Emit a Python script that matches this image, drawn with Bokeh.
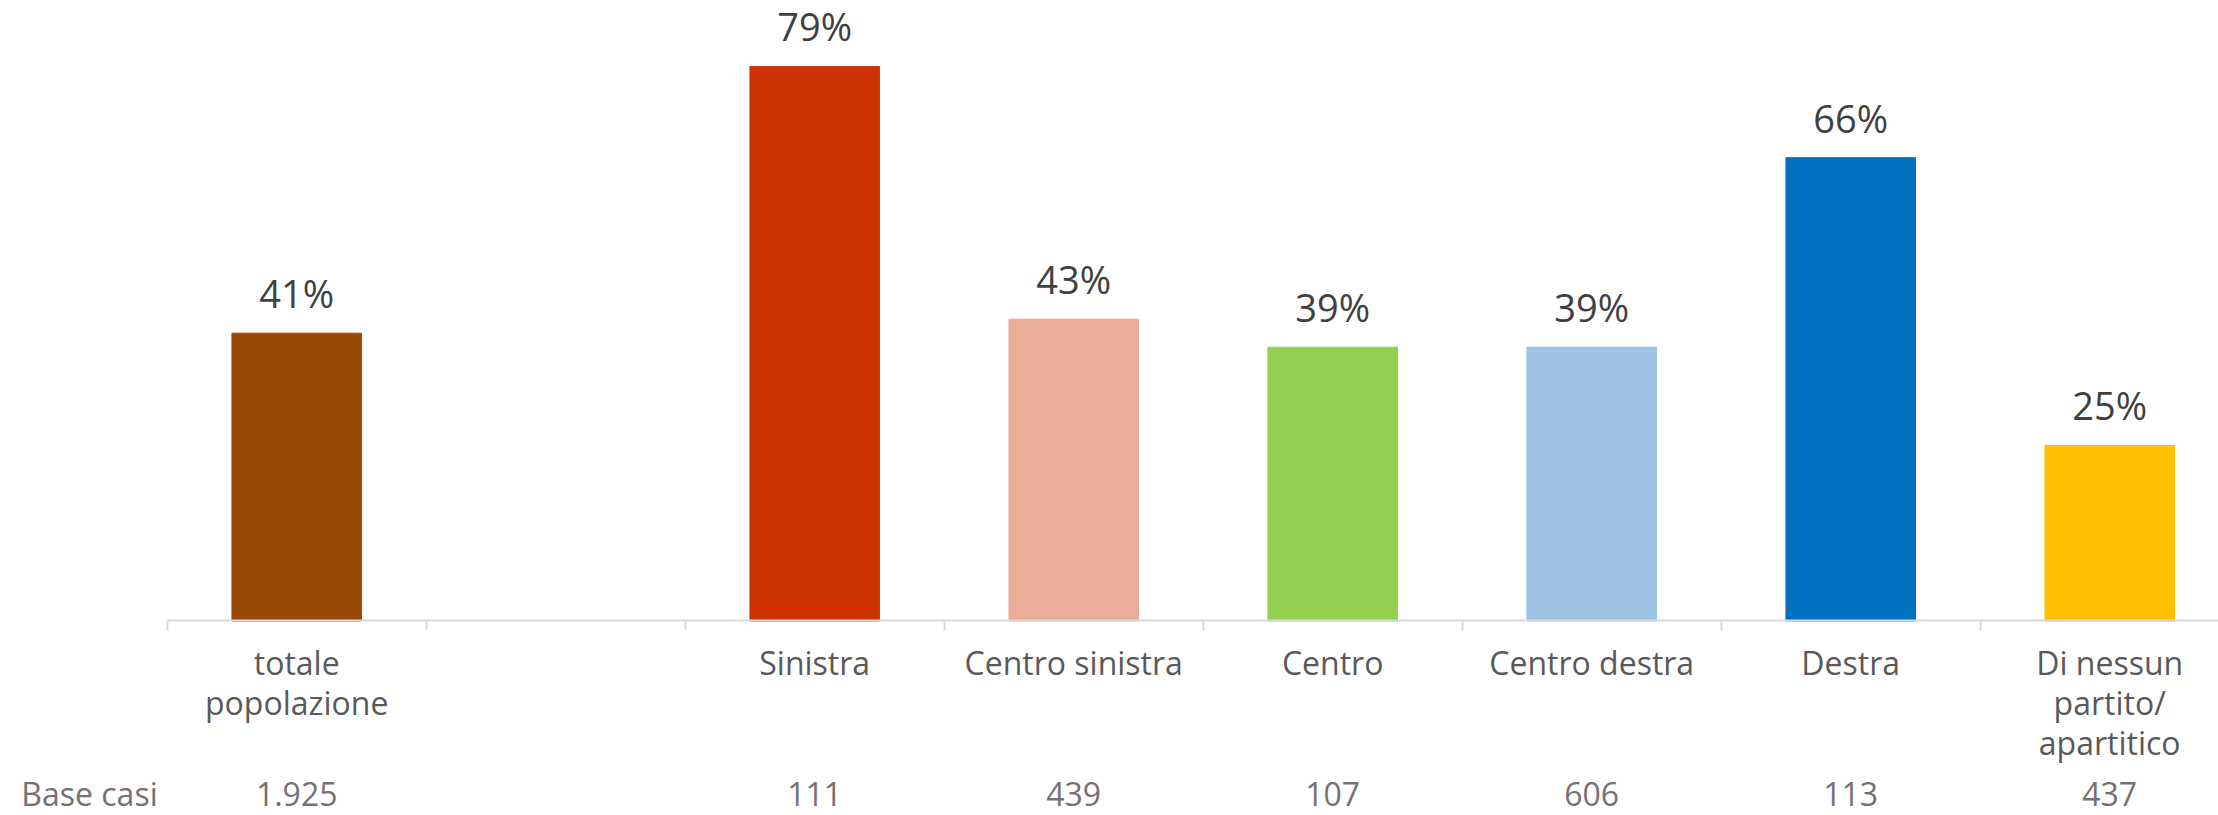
from bokeh.plotting import figure
from bokeh.models import Range1d, FixedTicker, LinearAxis
from bokeh.core.properties import value
from bokeh.embed import file_html
from bokeh.resources import INLINE

# ---- data ----
categories = ["totale\npopolazione", "", "Sinistra", "Centro sinistra", "Centro",
              "Centro destra", "Destra", "Di nessun\npartito/\napartitico"]
percentages = [41, None, 79, 43, 39, 39, 66, 25]
base_casi = ["1.925", "", "111", "439", "107", "606", "113", "437"]
bar_colors = ["#984807", None, "#CD3300", "#E9AD98", "#92D050", "#9DC3E6", "#0070C0", "#FFC000"]
base_label = "Base casi"

FONT = "Open Sans"

# derived positions (slot centres)
n = len(categories)
centers = [i + 0.5 for i in range(n)]
bx = [c for c, v in zip(centers, percentages) if v is not None]
bv = [v for v in percentages if v is not None]
bc = [col for col, v in zip(bar_colors, percentages) if v is not None]
bt = [f"{v}%" for v in bv]

W, H = 2218, 815
x_start, x_end = -0.6436, 7.92
y_start, y_end = -27.71, 88.39
base_label_x = -0.30
base_row_y = -21.55

p = figure(width=W, height=H, output_backend="svg", toolbar_location=None,
           x_range=Range1d(x_start, x_end), y_range=Range1d(y_start, y_end),
           y_axis_location=None, x_axis_location=None,
           min_border_left=0, min_border_right=0, min_border_top=0, min_border_bottom=0)
p.outline_line_color = None
p.xgrid.visible = False
p.ygrid.visible = False
p.background_fill_color = "white"
p.border_fill_color = "white"

p.vbar(x=bx, top=bv, bottom=0, width=0.5, color=bc)
p.text(x=bx, y=bv, text=bt, text_align="center", text_baseline="alphabetic",
       y_offset=-40, text_font=value(FONT), text_font_size="38px", text_color="#404040")

# category axis, pinned at y = 0
ax = LinearAxis(ticker=FixedTicker(ticks=centers, minor_ticks=list(range(n + 1))),
                fixed_location=0, bounds=(0, x_end))
ax.major_label_overrides = {c: lab for c, lab in zip(centers, categories)}
ax.axis_line_color = "#D9D9D9"
ax.axis_line_width = 2
ax.major_tick_out = 0
ax.major_tick_in = 0
ax.minor_tick_out = 10
ax.minor_tick_in = 0
ax.minor_tick_line_color = "#D9D9D9"
ax.minor_tick_line_width = 2
ax.major_label_standoff = 10
ax.major_label_text_font = FONT
ax.major_label_text_font_size = "32px"
ax.major_label_text_color = "#595959"
ax.major_label_text_line_height = 0.93
p.add_layout(ax, "below")

# base count row
ax2 = LinearAxis(ticker=FixedTicker(ticks=[base_label_x] + centers), fixed_location=base_row_y)
ax2.major_label_overrides = {**{base_label_x: base_label},
                             **{c: lab for c, lab in zip(centers, base_casi)}}
ax2.axis_line_color = None
ax2.major_tick_line_color = None
ax2.minor_tick_line_color = None
ax2.major_tick_out = 0
ax2.major_tick_in = 0
ax2.major_label_standoff = 0
ax2.major_label_text_font = FONT
ax2.major_label_text_font_size = "32px"
ax2.major_label_text_color = "#767171"
p.add_layout(ax2, "below")

open("out.html", "w").write(file_html(p, INLINE))
